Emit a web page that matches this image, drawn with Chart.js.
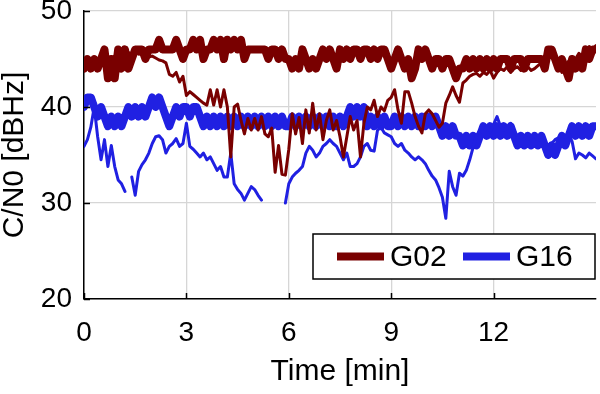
<!DOCTYPE html>
<html>
<head>
<meta charset="utf-8">
<script src="https://cdn.jsdelivr.net/npm/chart.js@4.4.0/dist/chart.umd.min.js"></script>
<style>
  html, body { margin: 0; padding: 0; background: #fff; }
</style>
</head>
<body>
<canvas id="cn0" width="600" height="394"></canvas>
<script>
// sample times [min], one row per minute
const timeMin = [
  0.0,0.1,0.2,0.3,0.4,0.5,0.6,0.7,0.8,0.9,
  1.0,1.1,1.2,1.3,1.4,1.5,1.6,1.7,1.8,1.9,
  2.0,2.1,2.2,2.3,2.4,2.5,2.6,2.7,2.8,2.9,
  3.0,3.1,3.2,3.3,3.4,3.5,3.6,3.7,3.8,3.9,
  4.0,4.1,4.2,4.3,4.4,4.5,4.6,4.7,4.8,4.9,
  5.0,5.1,5.2,5.3,5.4,5.5,5.6,5.7,5.8,5.9,
  6.0,6.1,6.2,6.3,6.4,6.5,6.6,6.7,6.8,6.9,
  7.0,7.1,7.2,7.3,7.4,7.5,7.6,7.7,7.8,7.9,
  8.0,8.1,8.2,8.3,8.4,8.5,8.6,8.7,8.8,8.9,
  9.0,9.1,9.2,9.3,9.4,9.5,9.6,9.7,9.8,9.9,
  10.0,10.1,10.2,10.3,10.4,10.5,10.6,10.7,10.8,10.9,
  11.0,11.1,11.2,11.3,11.4,11.5,11.6,11.7,11.8,11.9,
  12.0,12.1,12.2,12.3,12.4,12.5,12.6,12.7,12.8,12.9,
  13.0,13.1,13.2,13.3,13.4,13.5,13.6,13.7,13.8,13.9,
  14.0,14.1,14.2,14.3,14.4,14.5,14.6,14.7,14.8,14.9,
  15.0
];

// G02, integer C/N0 (thick trace)
const g02Thick = [
  44,45,44,45,44,45,46,43,45,43,
  46,44,46,44,45,46,46,46,45,46,
  46,46,47,46,46,46,46,47,46,45,
  46,46,47,46,47,45,46,46,47,46,
  47,45,47,46,47,46,47,45,46,46,
  46,46,46,46,45,46,46,45,46,45,
  45,44,45,44,46,45,44,45,44,45,
  46,45,46,45,44,46,45,46,45,46,
  46,45,46,46,45,46,45,46,46,45,
  44,45,46,45,44,45,43,44,46,45,
  46,45,44,45,45,44,45,45,44,43,
  44,44,45,44,45,44,45,44,45,44,
  45,44,45,45,45,44,45,45,45,44,
  45,45,45,45,45,44,46,46,45,44,
  45,44,43,45,44,45,44,46,45,46,
  46
];

// G02, fine C/N0 (thin trace)
const g02Thin = [
  44.6,45.0,44.8,45.2,44.7,45.0,45.4,44.8,45.1,45.3,
  45.0,45.4,45.2,45.7,45.4,45.8,45.5,45.6,45.3,45.2,
  45.3,45.1,44.9,44.8,44.6,43.4,43.2,43.6,42.6,43.2,
  41.2,41.6,41.3,41.0,40.7,40.4,40.2,41.8,40.2,41.8,
  40.0,41.8,40.0,34.8,40.0,40.3,38.6,37.2,38.8,37.6,
  38.8,37.6,39.0,37.2,36.9,37.8,33.2,36.0,33.0,32.9,
  35.6,39.3,37.2,38.9,36.2,39.7,37.3,40.4,37.6,39.3,
  36.6,38.6,39.7,37.6,38.6,36.9,34.8,36.9,39.0,37.6,
  38.6,34.8,38.3,40.0,39.7,40.7,39.0,40.0,39.6,40.7,
  41.0,41.8,39.7,38.3,41.6,41.6,40.4,39.0,38.0,37.3,
  39.3,39.7,39.3,38.6,37.9,38.3,40.4,41.2,42.1,41.2,
  40.5,42.5,42.8,43.2,43.4,43.5,43.2,43.6,43.4,43.8,
  43.0,43.6,44.0,43.8,44.2,43.6,44.0,44.2,43.8,44.0,
  44.2,43.8,44.0,44.3,44.6,45.2,45.3,46.1,44.8,44.3,
  43.6,44.2,44.8,45.2,45.0,45.6,45.2,45.8,46.3,46.0,
  46.4
];

// G16, integer C/N0 (thick trace)
const g16Thick = [
  40,41,41,40,39,40,39,38,39,38,
  39,38,39,40,39,40,39,40,39,40,
  41,40,41,40,39,38,39,40,39,40,
  40,39,40,40,39,38,39,38,39,38,
  39,38,39,38,39,38,39,38,39,38,
  39,38,39,38,39,38,39,38,39,38,
  38,39,38,39,38,39,38,39,38,39,
  38,39,38,39,38,39,38,39,40,39,
  40,39,40,38,39,38,39,38,39,38,
  38,39,38,39,38,39,38,39,38,39,
  38,39,38,39,38,37,38,37,38,37,
  37,36,37,36,37,36,37,38,37,38,
  37,38,37,38,37,38,37,36,37,36,
  37,36,37,36,37,36,35,36,35,36,
  37,36,37,38,37,38,37,38,37,38,
  38
];

// G16, fine C/N0 (thin trace), null = no data
const g16Thin = [
  35.9,36.6,37.9,40.0,36.9,34.5,36.6,33.8,36.0,33.8,
  32.4,32.0,31.2,null,32.7,30.8,33.3,34.0,34.5,35.2,
  36.2,36.9,37.0,36.6,35.2,35.9,36.2,36.7,35.9,36.2,
  38.3,35.9,35.6,35.2,34.8,35.2,34.5,34.8,34.1,33.4,
  33.8,32.7,32.7,35.2,32.0,31.4,31.0,30.3,31.0,31.7,
  31.4,30.8,30.3,null,null,null,null,null,null,30.0,
  32.0,32.7,33.1,33.4,33.8,35.2,35.9,35.5,34.8,35.2,
  35.9,36.2,36.6,36.2,35.9,35.2,34.5,35.2,33.8,33.8,
  34.1,34.8,35.9,36.2,35.5,35.4,37.6,37.9,37.3,37.1,
  36.9,36.2,35.9,36.2,35.5,35.2,34.8,34.5,34.8,34.5,
  34.1,33.4,32.8,32.4,31.6,30.6,28.4,33.3,31.7,30.8,
  33.1,32.8,33.4,34.5,35.8,37.0,37.6,37.2,38.0,37.4,
  38.2,39.0,38.0,37.6,37.8,38.3,37.5,37.0,36.8,37.0,
  36.6,36.8,37.0,36.5,36.6,36.0,35.6,36.2,36.6,36.8,
  37.0,36.8,37.2,36.4,34.6,35.2,35.0,34.7,35.2,34.9,
  34.6
];

const legendNames = ['G02', 'G16'];
const RED = '#790000';
const BLUE = '#2020e2';
const FONT = '"Liberation Sans", Arial, Helvetica, sans-serif';

// inward tick marks like the original figure
const innerTicks = {
  id: 'innerTicks',
  afterDraw(chart){
    const {ctx, chartArea: a, scales: {x, y}} = chart;
    ctx.save();
    ctx.strokeStyle = '#000';
    ctx.lineWidth = 1.5;
    ctx.beginPath();
    y.ticks.forEach(t => {
      const py = Math.round(y.getPixelForValue(t.value)) + 0.5;
      ctx.moveTo(a.left, py); ctx.lineTo(a.left + 6, py);
    });
    x.ticks.forEach(t => {
      const px = Math.round(x.getPixelForValue(t.value)) + 0.5;
      ctx.moveTo(px, a.bottom); ctx.lineTo(px, a.bottom - 6);
    });
    ctx.stroke();
    ctx.restore();
  }
};

// boxed legend in the lower right of the plot
const boxLegend = {
  id: 'boxLegend',
  afterDraw(chart){
    const {ctx, chartArea: a} = chart;
    const colors = [RED, BLUE];
    const right = a.right - 1, bottom = a.bottom - 20;
    const left = right - 282, top = bottom - 45;
    const cy = (top + bottom) / 2;
    ctx.save();
    ctx.fillStyle = '#fff';
    ctx.fillRect(left, top, right - left, bottom - top);
    ctx.strokeStyle = '#000';
    ctx.lineWidth = 1.5;
    ctx.strokeRect(left, top, right - left, bottom - top);
    ctx.font = '30px ' + FONT;
    ctx.textBaseline = 'middle';
    ctx.fillStyle = '#000';
    let xpos = left + 24;
    legendNames.forEach((name, i) => {
      ctx.strokeStyle = colors[i];
      ctx.lineWidth = 8;
      ctx.beginPath();
      ctx.moveTo(xpos, cy); ctx.lineTo(xpos + 47, cy);
      ctx.stroke();
      ctx.fillText(name, xpos + 53, cy + 1);
      xpos += 126;
    });
    ctx.restore();
  }
};

new Chart(document.getElementById('cn0'), {
  type: 'line',
  data: {
    labels: timeMin,
    datasets: [
      { label: 'G02', data: g02Thin,  borderColor: RED,  borderWidth: 3, order: 0 },
      { label: 'G16', data: g16Thin,  borderColor: BLUE, borderWidth: 3, order: 1 },
      { label: 'G02', data: g02Thick, borderColor: RED,  borderWidth: 8, order: 2 },
      { label: 'G16', data: g16Thick, borderColor: BLUE, borderWidth: 8, order: 3 },
    ]
  },
  options: {
    responsive: false,
    animation: false,
    spanGaps: false,
    layout: { padding: { top: 11, right: 4, left: 0, bottom: 0 } },
    elements: {
      point: { radius: 0 },
      line: { tension: 0, borderCapStyle: 'round', borderJoinStyle: 'round', fill: false }
    },
    plugins: { legend: { display: false }, tooltip: { enabled: false } },
    scales: {
      x: {
        type: 'linear', min: 0, max: 15,
        afterBuildTicks: s => { s.ticks = s.ticks.filter(t => t.value < 15); },
        afterFit: s => { s.height = 95; s.paddingLeft = 0; s.paddingRight = 0; },
        ticks: { stepSize: 3, color: '#000', padding: 17, maxRotation: 0, font: { size: 28, family: FONT } },
        grid: { color: '#d6d6d6', lineWidth: 1.3, drawTicks: false },
        border: { color: '#000', width: 1.5 },
        title: { display: true, text: 'Time [min]', color: '#000',
                 font: { size: 30, family: FONT, lineHeight: 1 }, padding: { top: 0, bottom: 7 } }
      },
      y: {
        min: 20, max: 50,
        afterFit: s => { s.width = 84; s.paddingTop = 0; s.paddingBottom = 0; },
        ticks: { stepSize: 10, color: '#000', padding: 12, font: { size: 28, family: FONT } },
        grid: { color: '#d6d6d6', lineWidth: 1.3, drawTicks: false },
        border: { color: '#000', width: 1.5 },
        title: { display: true, text: 'C/N0 [dBHz]', color: '#000',
                 font: { size: 30, family: FONT, lineHeight: 1 }, padding: { top: 0, bottom: 0 } }
      }
    }
  },
  plugins: [innerTicks, boxLegend]
});
</script>
</body>
</html>
